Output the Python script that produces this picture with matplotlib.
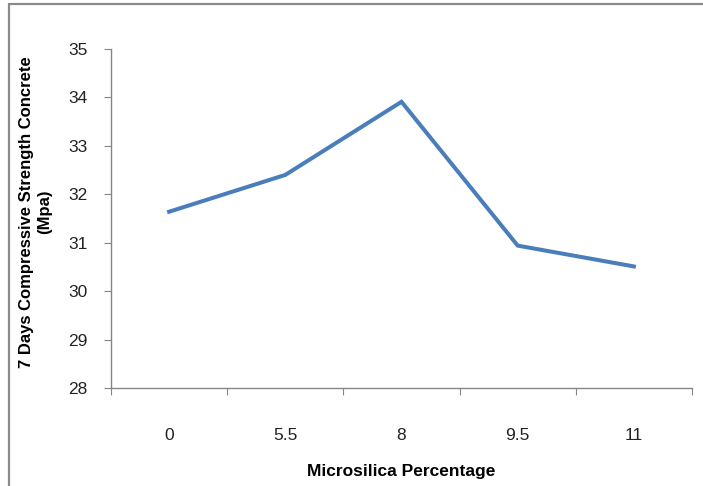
import numpy as np
import matplotlib.pyplot as plt
from matplotlib.patches import Rectangle

plt.rcParams['font.family'] = ['Liberation Sans', 'DejaVu Sans']

# 데이터
microsilica = ['0', '5.5', '8', '9.5', '11']
strength_7d = [31.64, 32.40, 33.91, 30.94, 30.51]

fig = plt.figure(figsize=(7.03, 4.86), dpi=100)
ax = fig.add_axes([111 / 703, 1 - 388 / 486, 581 / 703, 339 / 486])

# 바깥 테두리 (Excel 차트 영역)
fig.patches.append(Rectangle((8.5 / 703, -0.1), 1.2, 1.1 - 4.5 / 486,
                             transform=fig.transFigure, fill=False,
                             edgecolor='#8a8a8a', linewidth=1.6))

x = np.arange(len(microsilica))
ax.plot(x, strength_7d, color='#4a7ebb', linewidth=2.9, solid_joinstyle='miter')

ax.set_xlim(-0.5, len(microsilica) - 0.5)
ax.set_ylim(28, 35)
ax.set_yticks(np.arange(28, 36, 1))

# 눈금: 카테고리 경계에 눈금, 가운데에 라벨
ax.set_xticks(np.arange(-0.5, len(microsilica), 1))
ax.set_xticklabels([])
ax.set_xticks(x, minor=True)
ax.set_xticklabels(microsilica, minor=True)
ax.tick_params(axis='x', which='major', direction='out', length=5, color='#868686')
ax.tick_params(axis='x', which='minor', length=0, pad=29, labelsize=12.5, labelcolor='#222222')
ax.tick_params(axis='y', direction='out', length=5, color='#868686', pad=12,
               labelsize=12.5, labelcolor='#222222')

for s in ['top', 'right']:
    ax.spines[s].set_visible(False)
for s in ['left', 'bottom']:
    ax.spines[s].set_color('#868686')
    ax.spines[s].set_linewidth(1.0)

ax.set_xlabel('Microsilica Percentage', fontsize=12.5, fontweight='bold', labelpad=15)
fig.text(36 / 703, 1 - 212 / 486, '7 Days Compressive Strength Concrete\n(Mpa)',
         rotation=90, ha='center', va='center', fontsize=12, fontweight='bold',
         linespacing=1.25)

fig.savefig('out.png', dpi=100)
